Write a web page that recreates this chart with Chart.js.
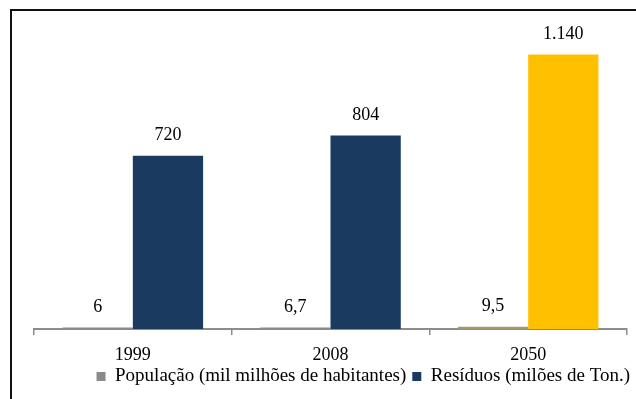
<!DOCTYPE html>
<html>
<head>
<meta charset="utf-8">
<script src="https://cdn.jsdelivr.net/npm/chart.js@4/dist/chart.umd.min.js"></script>
<style>
  html, body { margin: 0; padding: 0; background: #fff; }
  #wrap { position: relative; width: 636px; height: 399px; }
</style>
</head>
<body>
<div id="wrap"><canvas id="c" width="636" height="399"></canvas></div>
<script>
// Anos
const categories = ['1999', '2008', '2050'];
// População mundial (mil milhões de habitantes)
const populacao = [6, 6.7, 9.5];
// Resíduos produzidos (milhões de toneladas)
const residuos = [720, 804, 1140];

const seriesNames = ['População (mil milhões de habitantes)', 'Resíduos (milões de Ton.)'];

const serif = '"Liberation Serif", "Times New Roman", serif';

// Formato português: vírgula decimal, ponto nos milhares
function fmt(v) {
  const parts = String(v).split('.');
  const int = parts[0].replace(/\B(?=(\d{3})+(?!\d))/g, '.');
  return parts.length > 1 ? int + ',' + parts[1] : int;
}

// Moldura do gráfico
const framePlugin = {
  id: 'frame',
  beforeDraw(chart) {
    const ctx = chart.ctx;
    ctx.save();
    ctx.fillStyle = '#fff';
    ctx.fillRect(0, 0, chart.width, chart.height);
    ctx.fillStyle = '#111';
    ctx.fillRect(10, 9, chart.width - 10, 2);
    ctx.fillRect(10, 9, 2, chart.height - 9);
    ctx.restore();
  }
};

// Desloca a legenda ligeiramente para a direita e para baixo
const legendShift = {
  id: 'legendShift',
  afterLayout(chart) {
    const lg = chart.legend;
    if (!lg) return;
    lg.left += 9; lg.right += 9;
    lg.top += 1; lg.bottom += 1;
  }
};

// Rótulos de valor por cima das barras
const valueLabels = {
  id: 'valueLabels',
  afterDatasetsDraw(chart) {
    const ctx = chart.ctx;
    ctx.save();
    ctx.font = '18px ' + serif;
    ctx.fillStyle = '#000';
    ctx.textAlign = 'center';
    ctx.textBaseline = 'middle';
    chart.data.datasets.forEach((ds, di) => {
      chart.getDatasetMeta(di).data.forEach((bar, i) => {
        ctx.fillText(fmt(ds.data[i]), bar.x, bar.y - 20);
      });
    });
    ctx.restore();
  }
};

new Chart(document.getElementById('c'), {
  type: 'bar',
  data: {
    labels: categories,
    datasets: [
      {
        label: seriesNames[0],
        data: populacao,
        backgroundColor: ['#8a8a8a', '#8a8a8a', '#a39a6c'],
        categoryPercentage: 0.711,
        barPercentage: 1.0
      },
      {
        label: seriesNames[1],
        data: residuos,
        backgroundColor: ['#1b3a5f', '#1b3a5f', '#ffc000'],
        categoryPercentage: 0.711,
        barPercentage: 1.0
      }
    ]
  },
  options: {
    responsive: false,
    animation: false,
    devicePixelRatio: 1,
    layout: { padding: { left: 34, right: 9, top: 16, bottom: 4 } },
    scales: {
      x: {
        grid: {
          display: true,
          offset: true,
          drawOnChartArea: false,
          drawTicks: true,
          tickLength: 6,
          color: '#8c8c8c',
          lineWidth: 1.5
        },
        border: { display: true, color: '#8c8c8c', width: 2 },
        ticks: {
          color: '#000',
          font: { family: serif, size: 18 },
          padding: 9
        },
        afterFit(scale) { scale.height = 31; }
      },
      y: {
        display: false,
        min: 0,
        max: 1300
      }
    },
    plugins: {
      legend: {
        position: 'bottom',
        align: 'end',
        labels: {
          color: '#000',
          font: { family: serif, size: 19 },
          boxWidth: 9,
          boxHeight: 9,
          padding: 6,
          generateLabels(chart) {
            return chart.data.datasets.map((ds, i) => ({
              text: ds.label,
              fillStyle: i === 0 ? '#8a8a8a' : '#1b3a5f',
              strokeStyle: 'transparent',
              lineWidth: 0,
              datasetIndex: i,
              hidden: false
            }));
          }
        }
      },
      tooltip: { enabled: false }
    }
  },
  plugins: [framePlugin, legendShift, valueLabels]
});
</script>
</body>
</html>
